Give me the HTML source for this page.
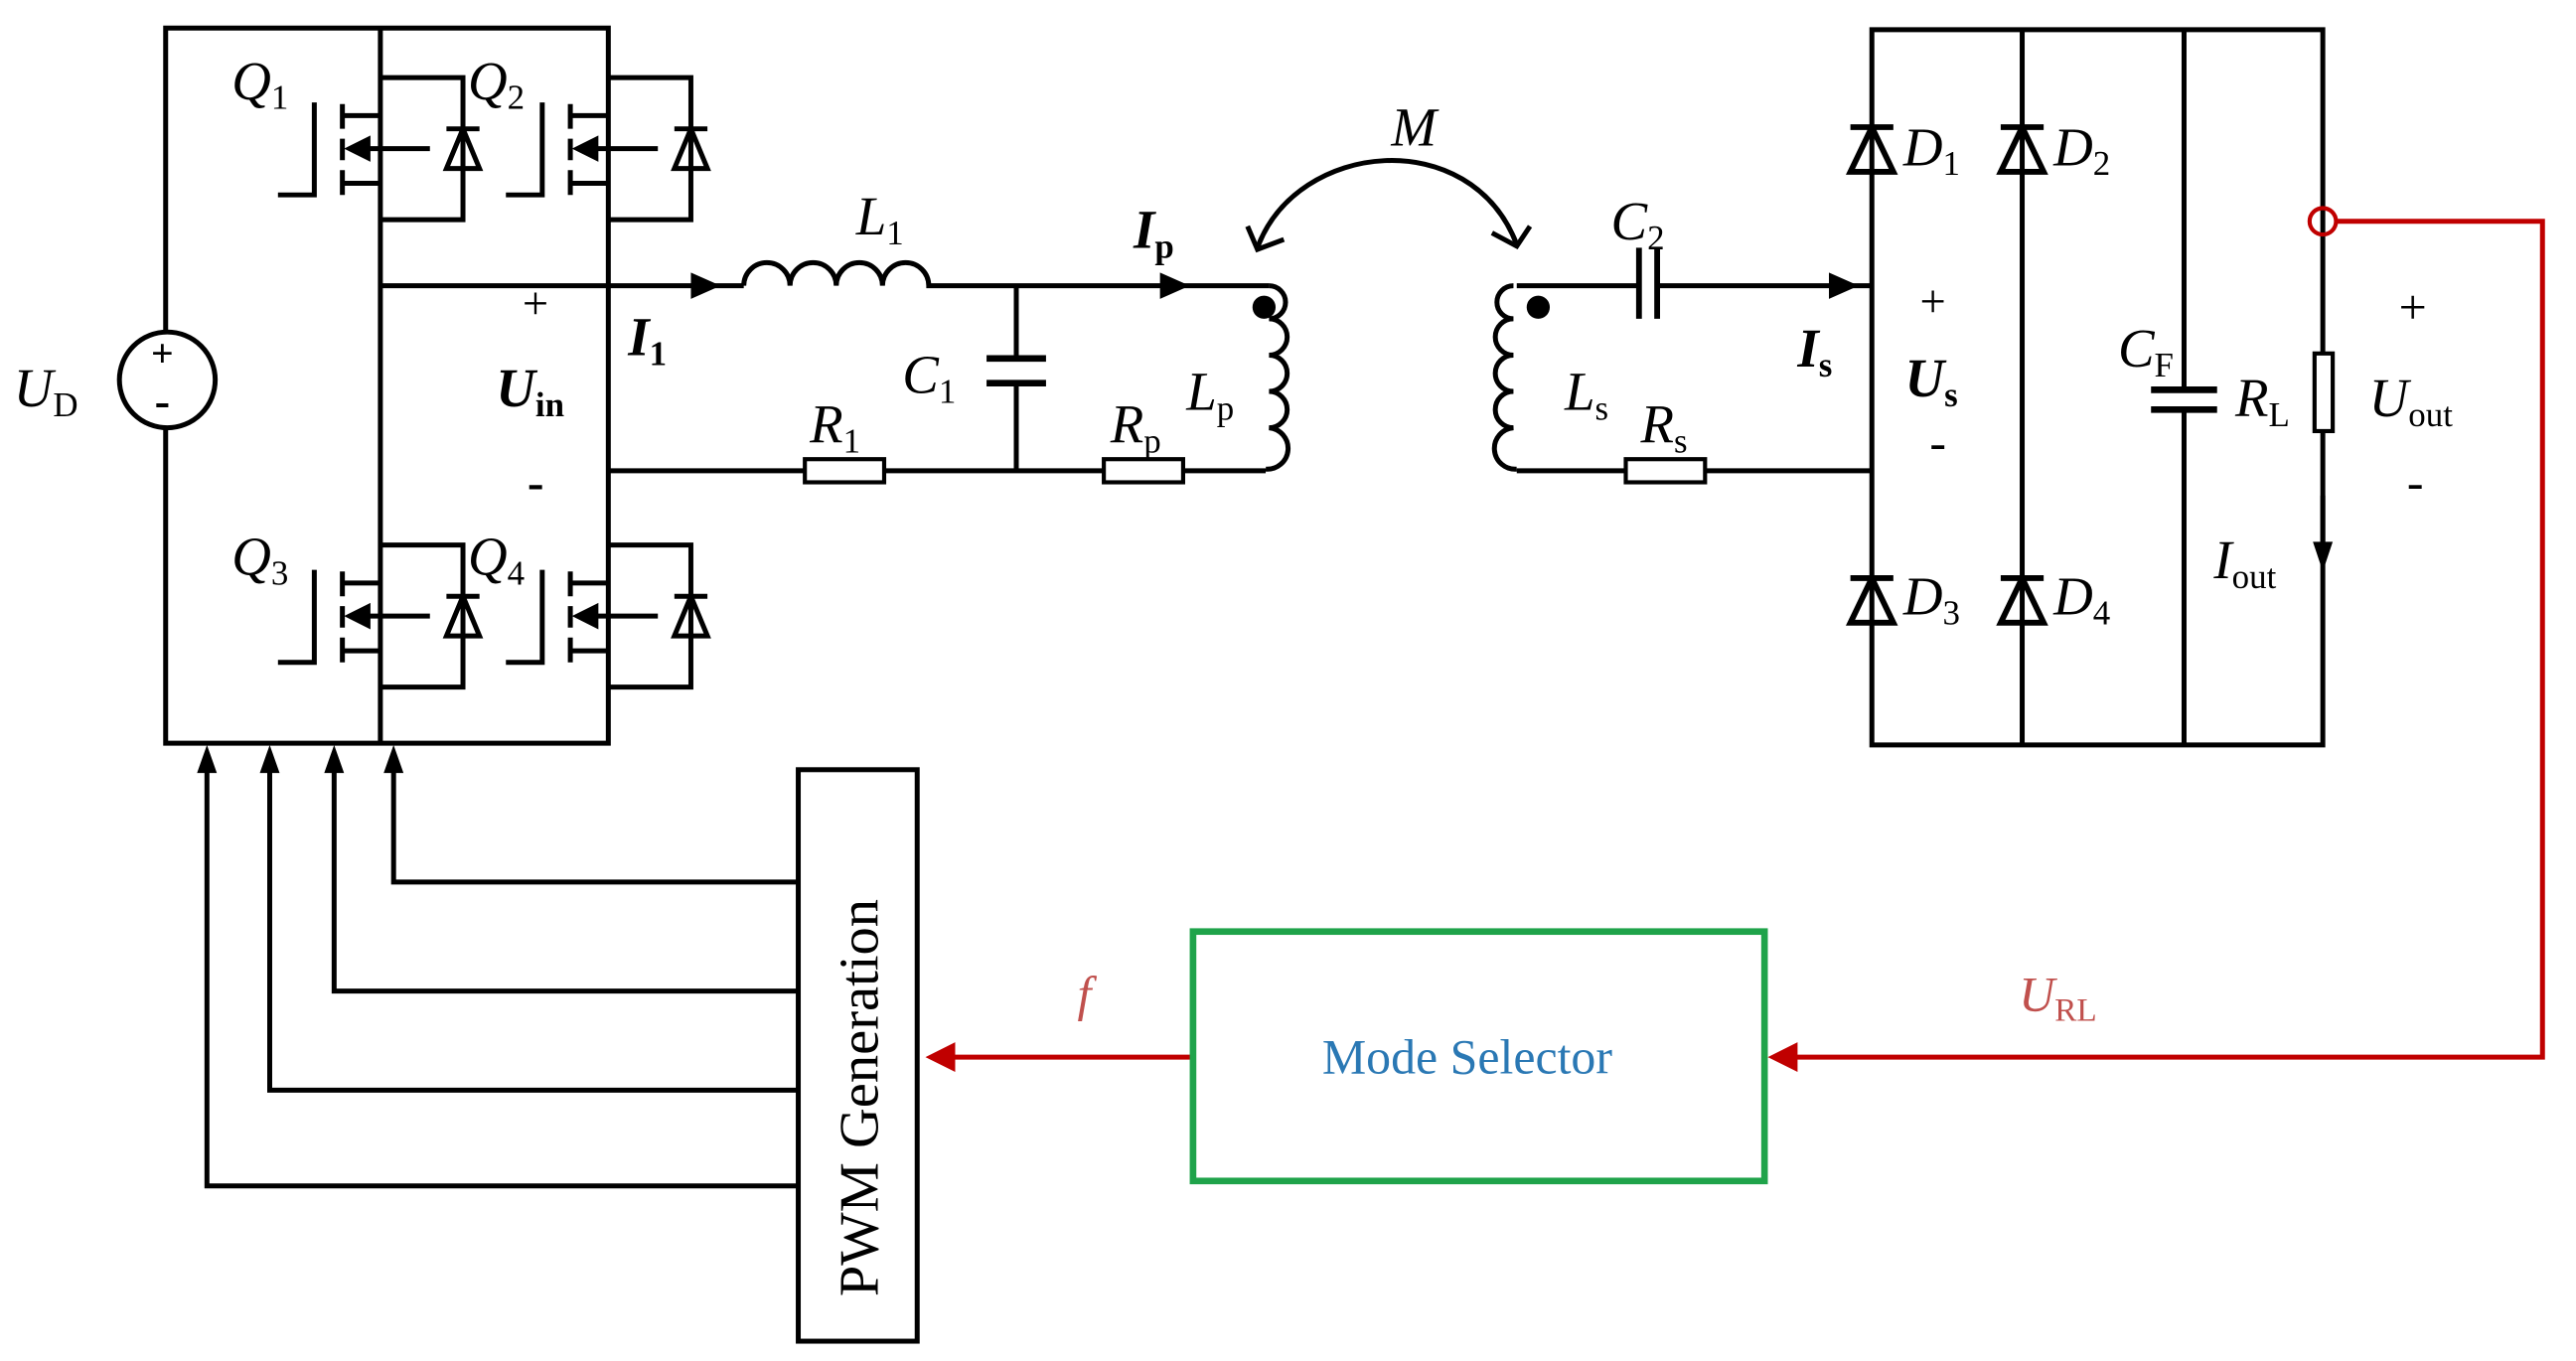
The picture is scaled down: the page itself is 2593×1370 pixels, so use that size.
<!DOCTYPE html>
<html><head><meta charset="utf-8"><style>
html,body{margin:0;padding:0;background:#fff;}
svg{display:block}
text{font-family:"Liberation Serif",serif;fill:#000}
.i{font-style:italic}
.b{font-weight:bold}
</style></head><body>
<svg width="2593" height="1370" viewBox="0 0 1559 824" xmlns="http://www.w3.org/2000/svg">
<defs>
<g id="mos">
<path d="M0,0 H50 V86 H0" fill="none" stroke="#000" stroke-width="3"/>
<path d="M40,31 H60 M50,31 L40,55 H60 Z" fill="none" stroke="#000" stroke-width="3"/>
<path d="M-23,16 V31 M-23,37 V50 M-23,56 V71" stroke="#000" stroke-width="3"/>
<path d="M-23,23 H0 M-23,64 H0" stroke="#000" stroke-width="3"/>
<path d="M-10,43 H30" stroke="#000" stroke-width="3"/>
<path d="M-22,43 L-6,35 L-6,51 Z" fill="#000"/>
<path d="M-40,15 V71 H-62" fill="none" stroke="#000" stroke-width="3"/>
</g>
<g id="dio">
<path d="M-13,0 H13 M0,0 L-13,27 H13 Z" fill="none" stroke="#000" stroke-width="3.5"/>
</g>
</defs>

<g stroke="#000" stroke-width="3" fill="none">
<path d="M100,200 V17 H368 V450 H100 V259"/>
<path d="M230,17 V450"/>
<circle cx="101" cy="230" r="29"/>
<path d="M230,173 H450"/>
<path d="M450,173 a14,14 0 0 1 28,0 a14,14 0 0 1 28,0 a14,14 0 0 1 28,0 a14,14 0 0 1 28,0 H768" />
<path d="M768,173 a10,10 0 0 1 0,20 a9,9 0 0 1 0,22 a9,9 0 0 1 0,22 a9,9 0 0 1 0,22 a10,10 0 0 1 -2,25"/>
<path d="M368,285 H487 M535,285 H668 M716,285 H766"/>
<rect x="487" y="278" width="48" height="14" stroke-width="2.5"/>
<rect x="668" y="278" width="48" height="14" stroke-width="2.5"/>
<path d="M615,173 V217 M615,232 V285"/>
<path d="M597,217 H633 M597,232 H633" stroke-width="4"/>
<!-- M arc -->
<path d="M761,150 C785,85 890,75 918,148"/>
<path d="M755,137 L761,151 L777,145 M903,141 L918,149 L926,137"/>
<!-- secondary -->
<path d="M918,173 H992 M1004,173 H1133"/>
<path d="M992,150 V193 M1003,150 V193" stroke-width="3.5"/>
<path d="M916,173 a10,10 0 0 0 0,20 a9,9 0 0 0 0,22 a9,9 0 0 0 0,22 a9,9 0 0 0 0,22 a10,10 0 0 0 2,25"/>
<path d="M918,285 H984 M1032,285 H1133"/>
<rect x="984" y="278" width="48" height="14" stroke-width="2.5"/>
<!-- bridge -->
<path d="M1133,18 H1406 V451 H1133 Z"/>
<path d="M1224,18 V451"/>
<path d="M1322,18 V236 M1322,248 V451"/>
<path d="M1302,236 H1342 M1302,248 H1342" stroke-width="4"/>
<rect x="1401" y="214" width="11" height="47" fill="#fff" stroke-width="2.5"/>
<path d="M1406,300 V330"/>
<!-- PWM -->
<rect x="483" y="466" width="72" height="346"/>
<path d="M483,718 H125 V462"/>
<path d="M483,660 H163 V462"/>
<path d="M483,600 H202 V462"/>
<path d="M483,534 H238 V462"/>
</g>
<path d="M125,451 L119,468 H131 Z M163,451 L157,468 H169 Z M202,451 L196,468 H208 Z M238,451 L232,468 H244 Z" fill="#000"/>
<path d="M436,173 L418,165 V181 Z M720,173 L702,165 V181 Z M1125,173 L1107,165 V181 Z M1406,346 L1400,328 H1412 Z" fill="#000"/>

<use href="#mos" x="230" y="47"/>
<use href="#mos" x="368" y="47"/>
<use href="#mos" x="230" y="330"/>
<use href="#mos" x="368" y="330"/>
<circle cx="765" cy="186" r="7" fill="#000"/>
<circle cx="931" cy="186" r="7" fill="#000"/>
<use href="#dio" x="1133" y="77"/>
<use href="#dio" x="1224" y="77"/>
<use href="#dio" x="1133" y="350"/>
<use href="#dio" x="1224" y="350"/>

<g stroke="#c00000" stroke-width="3" fill="none">
<circle cx="1406" cy="134" r="8" stroke-width="2.5"/>
<path d="M1414,134 H1539 V640 H1085"/>
<path d="M722,640 H575"/>
</g>
<path d="M1070,640 L1088,631 V649 Z M560,640 L578,631 V649 Z" fill="#c00000"/>
<rect x="722" y="564" width="346" height="151" fill="none" stroke="#1fa34a" stroke-width="4"/>
<text x="888" y="650" font-size="30" text-anchor="middle" style="fill:#2a78b4">Mode Selector</text>
<text x="0" y="0" font-size="34" transform="translate(531,785) rotate(-90)">PWM Generation</text>
<text x="652" y="612" font-size="30" class="i" style="fill:#c0504d">f</text>
<text x="1222" y="612" font-size="30" class="i" style="fill:#c0504d">U<tspan font-size="20" font-style="normal" dy="6">RL</tspan></text>

<g font-size="33">
<text x="98" y="222" font-size="24" text-anchor="middle" class="b">+</text>
<text x="98" y="252" font-size="28" text-anchor="middle" class="b">-</text>
<text x="8" y="246" class="i">U<tspan font-size="21" font-style="normal" dy="6">D</tspan></text>
<text x="140" y="60" class="i">Q<tspan font-size="21" font-style="normal" dy="6">1</tspan></text>
<text x="283" y="60" class="i">Q<tspan font-size="21" font-style="normal" dy="6">2</tspan></text>
<text x="140" y="348" class="i">Q<tspan font-size="21" font-style="normal" dy="6">3</tspan></text>
<text x="283" y="348" class="i">Q<tspan font-size="21" font-style="normal" dy="6">4</tspan></text>
<text x="316" y="193" font-size="28">+</text>
<text x="319" y="302" font-size="30" class="b">-</text>
<text x="300" y="246" class="i b">U<tspan font-size="21" font-style="normal" dy="6">in</tspan></text>
<text x="380" y="215" class="i b">I<tspan font-size="21" font-style="normal" dy="6">1</tspan></text>
<text x="518" y="142" class="i">L<tspan font-size="21" font-style="normal" dy="6">1</tspan></text>
<text x="686" y="150" class="i b">I<tspan font-size="21" font-style="normal" dy="6">p</tspan></text>
<text x="546" y="238" class="i">C<tspan font-size="21" font-style="normal" dy="6">1</tspan></text>
<text x="490" y="268" class="i">R<tspan font-size="21" font-style="normal" dy="6">1</tspan></text>
<text x="672" y="268" class="i">R<tspan font-size="21" font-style="normal" dy="6">p</tspan></text>
<text x="718" y="248" class="i">L<tspan font-size="21" font-style="normal" dy="6">p</tspan></text>
<text x="842" y="88" class="i">M</text>
<text x="975" y="145" class="i">C<tspan font-size="21" font-style="normal" dy="6">2</tspan></text>
<text x="1088" y="222" class="i b">I<tspan font-size="21" font-style="normal" dy="6">s</tspan></text>
<text x="947" y="248" class="i">L<tspan font-size="21" font-style="normal" dy="6">s</tspan></text>
<text x="993" y="268" class="i">R<tspan font-size="21" font-style="normal" dy="6">s</tspan></text>
<text x="1162" y="192" font-size="28">+</text>
<text x="1168" y="278" font-size="30">-</text>
<text x="1153" y="240" class="i b">U<tspan font-size="21" font-style="normal" dy="6">s</tspan></text>
<text x="1152" y="100" class="i">D<tspan font-size="21" font-style="normal" dy="6">1</tspan></text>
<text x="1243" y="100" class="i">D<tspan font-size="21" font-style="normal" dy="6">2</tspan></text>
<text x="1152" y="372" class="i">D<tspan font-size="21" font-style="normal" dy="6">3</tspan></text>
<text x="1243" y="372" class="i">D<tspan font-size="21" font-style="normal" dy="6">4</tspan></text>
<text x="1282" y="222" class="i">C<tspan font-size="21" font-style="normal" dy="6">F</tspan></text>
<text x="1353" y="252" class="i">R<tspan font-size="21" font-style="normal" dy="6">L</tspan></text>
<text x="1434" y="252" class="i">U<tspan font-size="21" font-style="normal" dy="6">out</tspan></text>
<text x="1452" y="196" font-size="30">+</text>
<text x="1457" y="302" font-size="30">-</text>
<text x="1340" y="350" class="i">I<tspan font-size="21" font-style="normal" dy="6">out</tspan></text>
</g>
</svg>
</body></html>
